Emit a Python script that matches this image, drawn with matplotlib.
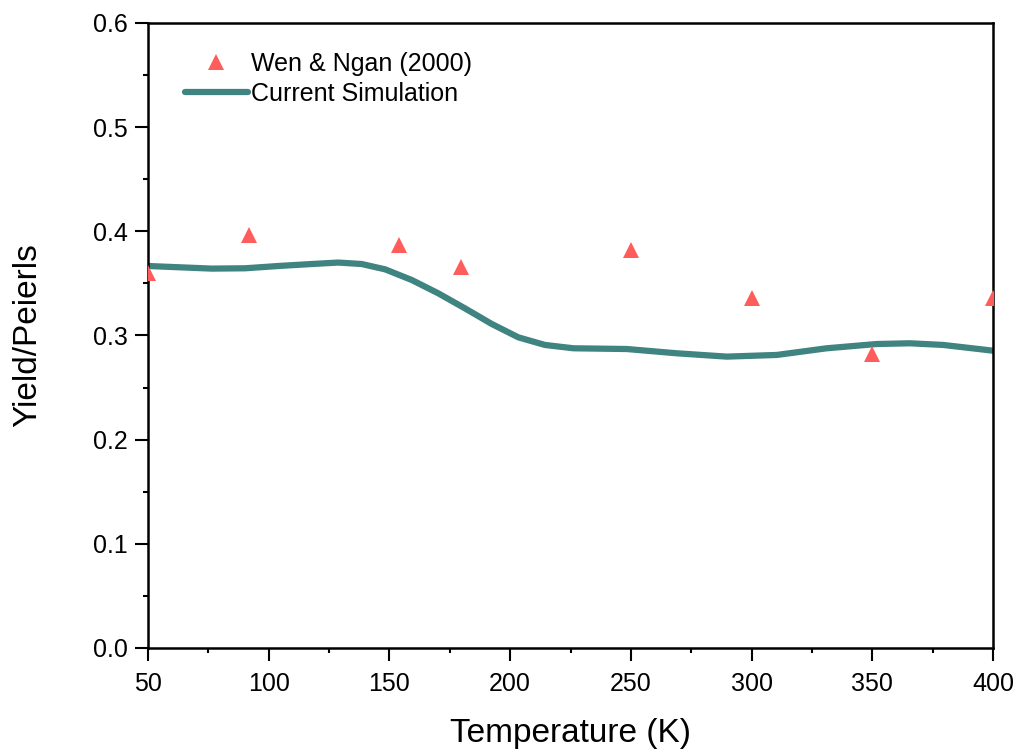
import matplotlib
matplotlib.use('Agg')
import matplotlib.pyplot as plt
from matplotlib.ticker import MultipleLocator, FormatStrFormatter

plt.rcParams['font.family'] = ['Liberation Sans', 'DejaVu Sans']

# Wen & Ngan (2000) - experimental points
exp_T = [50, 92, 154, 179.5, 250, 300, 350, 400]
exp_y = [0.360, 0.396, 0.387, 0.366, 0.382, 0.336, 0.282, 0.336]

# Current simulation curve
sim_T = [50, 62.6, 76.4, 90.2, 104, 117.8, 128.8, 138.5, 148.2, 159.2,
         170.2, 181.3, 192.4, 203.4, 214.4, 226.2, 248.3, 269, 289.7,
         310.4, 331.1, 351.8, 365.6, 379.4, 400]
sim_y = [0.3667, 0.3655, 0.3642, 0.3645, 0.3667, 0.3686, 0.370, 0.3686,
         0.3635, 0.3533, 0.3405, 0.326, 0.311, 0.2982, 0.2909, 0.2877,
         0.287, 0.2829, 0.2797, 0.2813, 0.2877, 0.2918, 0.2925, 0.2909,
         0.2854]

fig = plt.figure(figsize=(10.23, 7.56), dpi=100)
ax = fig.add_axes([0.1447, 0.1429, 0.826, 0.8267])

ax.plot(exp_T, exp_y, linestyle='none', marker='^', color='#ff5c5c',
        markersize=11, markeredgewidth=0, label='Wen & Ngan (2000)', zorder=3)
ax.plot(sim_T, sim_y, color='#3f8480', linewidth=4.5,
        solid_capstyle='round', solid_joinstyle='round',
        label='Current Simulation', zorder=2)

ax.set_xlim(50, 400)
ax.set_ylim(0, 0.6)
ax.xaxis.set_major_locator(MultipleLocator(50))
ax.xaxis.set_minor_locator(MultipleLocator(25))
ax.yaxis.set_major_locator(MultipleLocator(0.1))
ax.yaxis.set_minor_locator(MultipleLocator(0.05))
ax.yaxis.set_major_formatter(FormatStrFormatter('%.1f'))

ax.tick_params(which='both', direction='out', width=1.5, top=False, right=False)
ax.tick_params(which='major', length=9.5, labelsize=18)
ax.tick_params(which='minor', length=3.8)
ax.tick_params(axis='y', which='major', pad=5)
ax.tick_params(axis='x', which='major', pad=8)
for s in ax.spines.values():
    s.set_linewidth(1.8)

ax.set_xlabel('Temperature (K)', fontsize=24, labelpad=16)
ax.set_ylabel('Yield/Peierls', fontsize=24, labelpad=36)

ax.legend(loc='upper left', frameon=False, fontsize=18, handlelength=2.5,
          handletextpad=0.15, labelspacing=0.25, borderaxespad=0,
          bbox_to_anchor=(0.032, 0.970))

fig.savefig('out.png', dpi=100)
